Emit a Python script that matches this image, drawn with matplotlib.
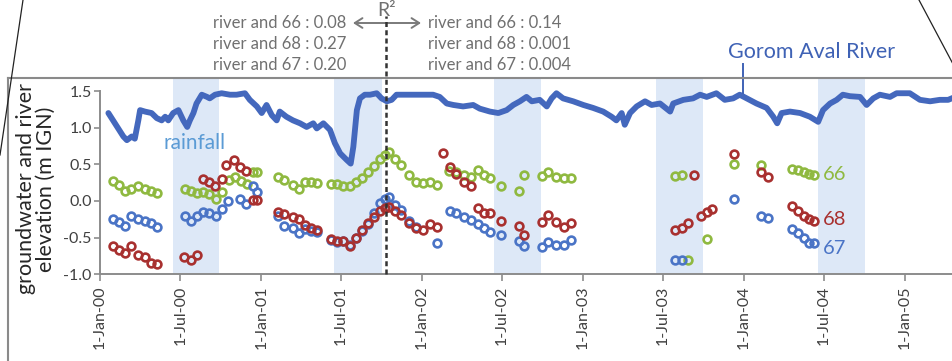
import matplotlib
matplotlib.use("Agg")
import matplotlib.pyplot as plt
from matplotlib.lines import Line2D
from matplotlib.ticker import FixedLocator, FuncFormatter
import matplotlib.dates as mdates
import pandas as pd

plt.rcParams['font.family'] = ['Lato', 'DejaVu Sans']

# ---------------- data ----------------
river_dates = [
    '2000-01-20', '2000-02-04', '2000-02-23', '2000-03-02', '2000-03-13', '2000-03-20',
    '2000-03-28', '2000-04-01', '2000-04-12', '2000-04-27', '2000-05-09', '2000-05-20',
    '2000-05-28', '2000-06-04', '2000-06-15', '2000-06-27', '2000-07-08', '2000-07-17',
    '2000-07-23', '2000-07-31', '2000-08-07', '2000-08-19', '2000-08-31', '2000-09-06',
    '2000-09-18', '2000-10-03', '2000-10-22', '2000-11-06', '2000-11-25', '2000-12-06',
    '2000-12-22', '2001-01-02', '2001-01-13', '2001-01-25', '2001-02-05', '2001-02-12',
    '2001-02-27', '2001-03-14', '2001-03-30', '2001-04-14', '2001-04-29', '2001-05-07',
    '2001-05-22', '2001-06-06', '2001-06-17', '2001-06-29', '2001-07-14', '2001-07-23',
    '2001-07-29', '2001-08-06', '2001-08-13', '2001-08-24', '2001-09-05', '2001-09-20',
    '2001-10-01', '2001-10-13', '2001-10-24', '2001-11-04', '2001-11-27', '2001-12-27',
    '2002-01-26', '2002-02-10', '2002-02-26', '2002-03-13', '2002-04-04', '2002-04-27',
    '2002-05-12', '2002-06-04', '2002-06-23', '2002-07-12', '2002-07-27', '2002-08-11',
    '2002-08-26', '2002-09-07', '2002-09-25', '2002-10-11', '2002-10-22', '2002-11-02',
    '2002-11-17', '2002-12-10', '2003-01-02', '2003-01-24', '2003-02-16', '2003-03-07',
    '2003-03-18', '2003-03-30', '2003-04-06', '2003-04-18', '2003-05-03', '2003-05-22',
    '2003-06-06', '2003-06-25', '2003-07-18', '2003-07-25', '2003-08-17', '2003-09-08',
    '2003-09-24', '2003-10-09', '2003-10-31', '2003-11-19', '2003-12-08', '2003-12-23',
    '2004-01-08', '2004-01-30', '2004-02-22', '2004-03-08', '2004-03-17', '2004-03-27',
    '2004-04-15', '2004-05-08', '2004-05-30', '2004-06-18', '2004-06-29', '2004-07-15',
    '2004-07-30', '2004-08-13', '2004-08-29', '2004-09-21', '2004-10-06', '2004-10-21',
    '2004-11-05', '2004-11-28', '2004-12-13', '2005-01-12', '2005-02-04', '2005-02-27',
    '2005-03-21', '2005-04-09', '2005-04-25',
]
river_level = [
    1.20, 1.06, 0.88, 0.83, 0.88, 0.85,
    1.10, 1.24, 1.22, 1.20, 1.13, 1.10,
    1.15, 1.10, 1.20, 1.24, 1.10, 1.01,
    1.10, 1.20, 1.33, 1.45, 1.42, 1.40,
    1.45, 1.47, 1.45, 1.45, 1.47, 1.38,
    1.29, 1.20, 1.31, 1.17, 1.10, 1.22,
    1.15, 1.10, 1.06, 1.01, 1.06, 0.99,
    1.06, 0.97, 0.79, 0.65, 0.56, 0.51,
    0.74, 1.24, 1.40, 1.45, 1.45, 1.47,
    1.40, 1.36, 1.38, 1.45, 1.45, 1.45,
    1.45, 1.42, 1.33, 1.31, 1.29, 1.31,
    1.26, 1.22, 1.20, 1.24, 1.31, 1.36,
    1.42, 1.36, 1.38, 1.29, 1.40, 1.47,
    1.40, 1.36, 1.31, 1.27, 1.22, 1.15,
    1.10, 1.20, 1.04, 1.20, 1.29, 1.36,
    1.31, 1.33, 1.22, 1.33, 1.38, 1.40,
    1.45, 1.42, 1.47, 1.38, 1.40, 1.45,
    1.40, 1.33, 1.27, 1.15, 1.06, 1.20,
    1.22, 1.20, 1.15, 1.08, 1.24, 1.33,
    1.38, 1.45, 1.43, 1.42, 1.31, 1.40,
    1.45, 1.42, 1.47, 1.47, 1.38, 1.36,
    1.38, 1.38, 1.42,
]

# piezometer 66
dates_66 = [
    '2000-01-31', '2000-02-14', '2000-02-27', '2000-03-12', '2000-03-27', '2000-04-11', '2000-04-26', '2000-05-10',
    '2000-07-12', '2000-07-26', '2000-08-08', '2000-08-22', '2000-09-05', '2000-09-20', '2000-10-04',
    '2000-10-20', '2000-11-02', '2000-11-16', '2000-11-29', '2000-12-14', '2000-12-22',
    '2001-02-08', '2001-02-21', '2001-03-14', '2001-03-27', '2001-04-10', '2001-04-23', '2001-05-07',
    '2001-06-09', '2001-06-23', '2001-07-06', '2001-07-21', '2001-08-05', '2001-08-18', '2001-09-01',
    '2001-09-15', '2001-09-27', '2001-10-08', '2001-10-17', '2001-11-01', '2001-11-15', '2001-12-02',
    '2001-12-18', '2002-01-03', '2002-01-19', '2002-02-03',
    '2002-03-04', '2002-03-20', '2002-04-07', '2002-04-22', '2002-05-07', '2002-05-21', '2002-06-04',
    '2002-06-30', '2002-08-09', '2002-08-20', '2002-10-01', '2002-10-14', '2002-11-02', '2002-11-19', '2002-12-04',
    '2003-07-29', '2003-08-13', '2003-08-28', '2003-10-09',
    '2003-12-10',
    '2004-02-10',
    '2004-04-19', '2004-05-03', '2004-05-17', '2004-05-29', '2004-06-08',
]
level_66 = [
    0.27, 0.22, 0.13, 0.165, 0.20, 0.165, 0.14, 0.105,
    0.17, 0.135, 0.11, 0.12, 0.095, 0.03, 0.127,
    0.29, 0.33, 0.27, 0.23, 0.40, 0.40,
    0.33, 0.28, 0.22, 0.16, 0.26, 0.26, 0.25,
    0.23, 0.23, 0.21, 0.20, 0.26, 0.32, 0.39,
    0.48, 0.57, 0.63, 0.67, 0.57, 0.49, 0.36,
    0.26, 0.24, 0.26, 0.22,
    0.41, 0.39, 0.36, 0.33, 0.42, 0.35, 0.31,
    0.21, 0.13, 0.35, 0.34, 0.40, 0.33, 0.31, 0.32,
    0.34, 0.355, -0.80, -0.52,
    0.505,
    0.49,
    0.43, 0.42, 0.40, 0.375, 0.36,
]

# piezometer 68
dates_68 = [
    '2000-01-31', '2000-02-14', '2000-02-27', '2000-03-12', '2000-03-27', '2000-04-11', '2000-04-26', '2000-05-10',
    '2000-07-10', '2000-07-26', '2000-08-08', '2000-08-22', '2000-09-05', '2000-09-18', '2000-10-05',
    '2000-10-14', '2000-11-01', '2000-11-14', '2000-11-28', '2000-12-14', '2000-12-22',
    '2001-02-08', '2001-02-21', '2001-03-14', '2001-03-27', '2001-04-10', '2001-04-23', '2001-05-07',
    '2001-06-09', '2001-06-23', '2001-07-06', '2001-07-21', '2001-08-05', '2001-08-18', '2001-09-01',
    '2001-09-15', '2001-09-27', '2001-10-08', '2001-10-17', '2001-11-01', '2001-11-15', '2001-12-02',
    '2001-12-18', '2002-01-03', '2002-01-19', '2002-02-03',
    '2002-02-18', '2002-03-05', '2002-03-20', '2002-04-07', '2002-04-22', '2002-05-07', '2002-05-21', '2002-06-04',
    '2002-06-30', '2002-08-08', '2002-08-20', '2002-10-01', '2002-10-14', '2002-11-02', '2002-11-19', '2002-12-04',
    '2003-07-29', '2003-08-13', '2003-08-28', '2003-09-10', '2003-09-25', '2003-10-09', '2003-10-22',
    '2003-12-10',
    '2004-02-10', '2004-02-25',
    '2004-04-19', '2004-05-03', '2004-05-17', '2004-05-29', '2004-06-08',
]
level_68 = [
    -0.62, -0.665, -0.71, -0.61, -0.73, -0.77, -0.84, -0.86,
    -0.76, -0.80, -0.74, 0.30, 0.265, 0.205, 0.296,
    0.49, 0.56, 0.47, 0.405, 0.014, 0.02,
    -0.15, -0.18, -0.22, -0.25, -0.33, -0.37, -0.39,
    -0.52, -0.55, -0.54, -0.615, -0.50, -0.40, -0.305,
    -0.215, -0.14, -0.09, -0.078, -0.132, -0.19, -0.30,
    -0.365, -0.39, -0.31, -0.36,
    0.65, 0.47, 0.37, 0.265, 0.21, -0.09, -0.16, -0.17,
    -0.27, -0.34, -0.47, -0.28, -0.19, -0.28, -0.355, -0.30,
    -0.395, -0.37, -0.30, 0.355, -0.205, -0.155, -0.11,
    0.635,
    0.39, 0.325,
    -0.07, -0.14, -0.20, -0.245, -0.275,
]

# piezometer 67
dates_67 = [
    '2000-01-31', '2000-02-14', '2000-02-27', '2000-03-12', '2000-03-27', '2000-04-11', '2000-04-26', '2000-05-10',
    '2000-07-12', '2000-07-26', '2000-08-08', '2000-08-22', '2000-09-05', '2000-09-20',
    '2000-10-04', '2000-10-18', '2000-11-14', '2000-11-28', '2000-12-14', '2000-12-22',
    '2001-02-08', '2001-02-21', '2001-03-14', '2001-03-27', '2001-04-10', '2001-04-23', '2001-05-07',
    '2001-06-09', '2001-06-23', '2001-07-06', '2001-07-21', '2001-08-05', '2001-08-18', '2001-09-01',
    '2001-09-15', '2001-09-27', '2001-10-08', '2001-10-17', '2001-11-01', '2001-11-15', '2001-12-02',
    '2001-12-18', '2002-02-03',
    '2002-03-05', '2002-03-20', '2002-04-07', '2002-04-22', '2002-05-07', '2002-05-21', '2002-06-04',
    '2002-06-30', '2002-08-08', '2002-08-20', '2002-10-01', '2002-10-14', '2002-11-02', '2002-11-19', '2002-12-04',
    '2003-07-29', '2003-08-13',
    '2003-12-10',
    '2004-02-10', '2004-02-25',
    '2004-04-19', '2004-05-03', '2004-05-17', '2004-05-29', '2004-06-08',
]
level_67 = [
    -0.25, -0.28, -0.335, -0.205, -0.25, -0.27, -0.305, -0.36,
    -0.205, -0.27, -0.21, -0.15, -0.16, -0.21,
    -0.11, 0.0, 0.025, -0.035, 0.20, 0.12,
    -0.20, -0.335, -0.37, -0.43, -0.38, -0.405, -0.42,
    -0.53, -0.56, -0.55, -0.60, -0.50, -0.41, -0.32,
    -0.17, -0.03, 0.03, 0.06, -0.055, -0.12, -0.27,
    -0.35, -0.577,
    -0.13, -0.17, -0.215, -0.265, -0.31, -0.37, -0.42,
    -0.465, -0.54, -0.61, -0.63, -0.555, -0.595, -0.60, -0.53,
    -0.81, -0.80,
    0.03,
    -0.20, -0.235,
    -0.38, -0.44, -0.50, -0.577, -0.577,
]

rain_start = ['2000-06-14', '2001-06-15', '2002-06-14', '2003-06-15', '2004-06-17']
rain_end = ['2000-09-28', '2001-10-01', '2002-09-29', '2003-09-30', '2004-10-02']

split_date = '2001-10-12'
r2_labels = ['river and 66', 'river and 68', 'river and 67']
r2_before = ['0.08', '0.27', '0.20']
r2_after = ['0.14', '0.001', '0.004']

tick_dates = pd.date_range('2000-01-01', '2005-01-01', freq='6MS')
y_ticks = [-1.0, -0.5, 0.0, 0.5, 1.0, 1.5]

# ---------------- styling ----------------
W, H = 953, 361
C_RIVER = '#4468bd'
C_66 = '#8fb940'
C_68 = '#a8302f'
C_67 = '#4a74c6'
C_BAND = '#dde8f7'
C_GREY_TXT = '#707070'
C_AXIS = '#8c8c8c'
C_TICK_TXT = '#404040'


def fx(px):
    return px / W


def fy(py):
    return 1 - py / H


fig = plt.figure(figsize=(W / 100, H / 100), dpi=100)
ax = fig.add_axes([fx(100), fy(274.3), 1 - fx(100), fy(78) - fy(274.3)])

ax.set_xlim(pd.Timestamp('2000-01-01'), pd.Timestamp('2005-04-20'))
ax.set_ylim(-1.0, 1.678)

for s, e in zip(rain_start, rain_end):
    ax.axvspan(pd.Timestamp(s), pd.Timestamp(e), color=C_BAND, lw=0, zorder=0)

ax.plot(pd.to_datetime(river_dates), river_level, color=C_RIVER, lw=4.2,
        solid_joinstyle='round', solid_capstyle='round', zorder=3)

marker_kw = dict(ls='none', marker='o', ms=5.6, mew=1.9, markerfacecolor='none', zorder=4)
ax.plot(pd.to_datetime(dates_66), level_66, color=C_66, mec=C_66, **marker_kw)
ax.plot(pd.to_datetime(dates_67), level_67, color=C_67, mec=C_67, **marker_kw)
ax.plot(pd.to_datetime(dates_68), level_68, color=C_68, mec=C_68, **marker_kw)

# split between the two R² periods
split = pd.Timestamp(split_date)
ax.plot([split, split], [-1.0, 2.53], color='#333333', lw=1.8, ls=(0, (2.0, 1.3)),
        clip_on=False, zorder=5)

# axes cosmetics
for side in ('top', 'right'):
    ax.spines[side].set_visible(False)
ax.spines['left'].set_bounds(-1.0, 1.5)
for side in ('left', 'bottom'):
    ax.spines[side].set_color(C_AXIS)
    ax.spines[side].set_linewidth(1.4)
ax.yaxis.set_major_locator(FixedLocator(y_ticks))
ax.yaxis.set_major_formatter(FuncFormatter(lambda v, p: f'{v:.1f}'))
ax.xaxis.set_major_locator(FixedLocator(mdates.date2num(tick_dates)))
ax.xaxis.set_major_formatter(FuncFormatter(
    lambda v, p: (lambda d: f'{d.day}-{d:%b-%y}')(mdates.num2date(v))))
ax.tick_params(axis='y', direction='out', length=4, width=1.2, color=C_AXIS,
               labelsize=11.5, labelcolor=C_TICK_TXT, pad=2)
ax.tick_params(axis='x', direction='out', length=5, width=1.2, color=C_AXIS,
               labelsize=11.5, labelcolor=C_TICK_TXT, pad=3, labelrotation=90)

fig.text(fx(36), fy(189), 'groundwater and river\nelevation (m IGN)', rotation=90,
         ha='center', va='center', multialignment='center', fontsize=15.5,
         color='#262626', linespacing=1.0)

# series labels
fig.text(fx(823), fy(174), '66', color=C_66, fontsize=14.5, ha='left', va='center')
fig.text(fx(823), fy(220), '68', color=C_68, fontsize=14.5, ha='left', va='center')
fig.text(fx(823), fy(249), '67', color=C_67, fontsize=14.5, ha='left', va='center')
fig.text(fx(195), fy(143), 'rainfall', color='#5b9bd5', fontsize=15, ha='center', va='center')
fig.text(fx(812), fy(52), 'Gorom Aval River', color='#3f62b5', fontsize=15.5,
         ha='center', va='center')
fig.add_artist(Line2D([fx(742.7), fx(742.7)], [fy(64), fy(93)], color='#3f62b5', lw=1.4,
                      transform=fig.transFigure))

# R² annotation
fig.text(fx(387), fy(10), 'R²', color=C_GREY_TXT, fontsize=14, ha='center', va='center')
for i, (lab, before, after) in enumerate(zip(r2_labels, r2_before, r2_after)):
    y = fy(23 + 21 * i)
    fig.text(fx(346), y, f'{lab} : {before}', color=C_GREY_TXT, fontsize=12,
             ha='right', va='center')
    fig.text(fx(428), y, f'{lab} : {after}', color=C_GREY_TXT, fontsize=12,
             ha='left', va='center')
for x_end in (353, 421):
    ax.annotate('', xy=(x_end, H - 23), xycoords='figure pixels',
                xytext=(387, H - 23), textcoords='figure pixels',
                arrowprops=dict(arrowstyle='->,head_length=0.55,head_width=0.35',
                                color='#7a7a7a', lw=1.4, shrinkA=0, shrinkB=0))

# surrounding frame and zoom guide lines
frame_kw = dict(transform=fig.transFigure, color='#8a8a8a', lw=1.5)
fig.add_artist(Line2D([fx(8), 1], [fy(78), fy(78)], **frame_kw))
fig.add_artist(Line2D([fx(8), fx(8)], [fy(78), 0], **frame_kw))
guide_kw = dict(transform=fig.transFigure, color='#222222', lw=0.9)
fig.add_artist(Line2D([fx(23), fx(0)], [fy(0), fy(155)], **guide_kw))
fig.add_artist(Line2D([fx(919), fx(953)], [fy(0), fy(64)], **guide_kw))

fig.savefig('out.png', dpi=100)
